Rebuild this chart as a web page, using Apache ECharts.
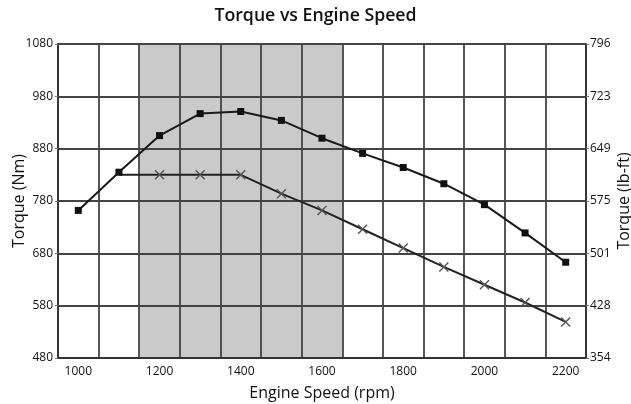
<!DOCTYPE html>
<html>
<head>
<meta charset="utf-8">
<script src="https://cdn.jsdelivr.net/npm/echarts@6/dist/echarts.min.js"></script>
<style>
  html, body { margin: 0; padding: 0; background: #fff; }
  #main { width: 631px; height: 404px; }
</style>
</head>
<body>
<div id="main"></div>
<script>
var speeds = ['1000', '1100', '1200', '1300', '1400', '1500', '1600', '1700', '1800', '1900', '2000', '2100', '2200'];
// torque curve with square markers
var torqueA = [762, 835, 905, 947, 951, 934, 900, 871, 844, 813, 773, 719, 663];
// torque curve with x markers (starts at 1100, hidden marker there)
var torqueB = ['-', 830, 830, 830, 830, 794, 762, 726, 690, 654, 620, 586, 549];
// right axis labels (lb-ft) matching the left ticks 480..1080
var lbftTicks = [354, 428, 501, 575, 649, 723, 796];
// shaded band, in category indexes (band edges)
var shadeFrom = 2, shadeTo = 7;

var font = 'Open Sans';
var crossPath = 'path://M0,1L1,0L5,4L9,0L10,1L6,5L10,9L9,10L5,6L1,10L0,9L4,5Z';
var nameStyle = { fontFamily: font, fontSize: 16, color: '#111' };

var myChart = echarts.init(document.getElementById('main'));
var option = {
    backgroundColor: '#fff',
    animation: false,
    title: {
        text: 'Torque vs Engine Speed',
        left: 'center',
        top: 2,
        textStyle: { fontFamily: font, fontSize: 17.7, fontWeight: 600, color: '#111' }
    },
    grid: { left: 58, right: 45, top: 44, bottom: 46, containLabel: false, outerBoundsMode: 'none' },
    xAxis: [{
        type: 'category',
        data: speeds,
        boundaryGap: true,
        name: 'Engine Speed (rpm)',
        nameLocation: 'middle',
        nameGap: 27,
        nameMoveOverlap: false,
        nameTextStyle: nameStyle,
        axisLine: { lineStyle: { color: '#333', width: 1.8 } },
        axisTick: { show: false },
        axisLabel: { interval: 1, fontFamily: font, fontSize: 12, color: '#111', margin: 8 },
        splitLine: { show: true, interval: 0, lineStyle: { color: '#444', width: 1.8 } }
    }, {
        type: 'value',
        show: false,
        min: 0,
        max: 13
    }],
    yAxis: [{
        type: 'value',
        min: 480,
        max: 1080,
        interval: 100,
        name: 'Torque (Nm)',
        nameLocation: 'middle',
        nameGap: 31,
        nameMoveOverlap: false,
        nameTextStyle: nameStyle,
        axisLine: { show: true, lineStyle: { color: '#333', width: 1.8 } },
        axisTick: { show: true, length: 3, lineStyle: { color: '#777' } },
        axisLabel: {
            fontFamily: font, fontSize: 12, color: '#111', margin: 5,
            formatter: function (v) { return String(v); }
        },
        splitLine: { show: true, lineStyle: { color: '#444', width: 1.8 } }
    }, {
        type: 'value',
        position: 'right',
        min: 480,
        max: 1080,
        interval: 100,
        name: 'Torque (lb-ft)',
        nameLocation: 'middle',
        nameGap: 30,
        nameMoveOverlap: false,
        nameTextStyle: nameStyle,
        axisLine: { show: true, lineStyle: { color: '#333', width: 1.8 } },
        axisTick: { show: true, length: 3, lineStyle: { color: '#777' } },
        axisLabel: {
            fontFamily: font, fontSize: 12, color: '#111', margin: 4,
            formatter: function (v) { return String(lbftTicks[Math.round((v - 480) / 100)]); }
        },
        splitLine: { show: false }
    }],
    series: [{
        name: 'shade',
        type: 'line',
        xAxisIndex: 1,
        yAxisIndex: 0,
        data: [],
        z: -1,
        markArea: {
            silent: true,
            z: -1,
            itemStyle: { color: '#cacaca' },
            data: [[{ xAxis: shadeFrom }, { xAxis: shadeTo }]]
        }
    }, {
        name: 'Torque A',
        type: 'line',
        data: torqueA,
        symbol: 'rect',
        symbolSize: 7,
        lineStyle: { color: '#1a1a1a', width: 2 },
        itemStyle: { color: '#111' },
        z: 4
    }, {
        name: 'Torque B',
        type: 'line',
        data: torqueB.map(function (v, i) {
            return i === 1 ? { value: v, symbol: 'none' } : v;
        }),
        symbol: crossPath,
        symbolSize: 10,
        lineStyle: { color: '#222', width: 2 },
        itemStyle: { color: '#555' },
        z: 3
    }]
};
myChart.setOption(option);
</script>
</body>
</html>
